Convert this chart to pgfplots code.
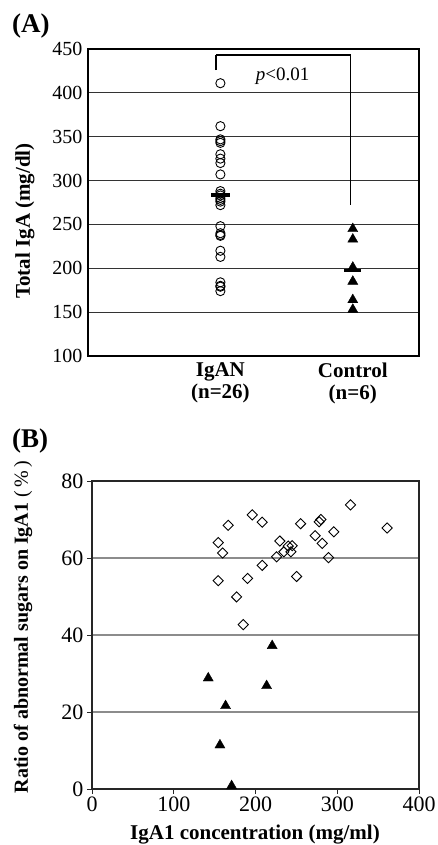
\documentclass[border=0pt]{standalone}
\usepackage{fontspec}
\setmainfont{Liberation Serif}
\usepackage{pgfplots}
\pgfplotsset{compat=1.18}

\begin{document}
\begin{tikzpicture}
\useasboundingbox (0pt,0pt) rectangle (437pt,-845pt);

% panel A
\node[anchor=base west, font=\fontsize{27}{30}\selectfont\bfseries, inner sep=0pt] at (12pt,-33pt) {(A)};
\node[rotate=90, font=\fontsize{21}{23}\selectfont\bfseries] at (25pt,-221pt) {Total IgA (mg/dl)};
\begin{axis}[
  at={(88pt,-356pt)}, anchor=south west,
  scale only axis, width=331pt, height=307pt,
  xmin=0, xmax=2.5, ymin=100, ymax=450,
  xtick={1,2}, xticklabels={{IgAN\\(n=26)},{Control\\(n=6)}},
  ytick={100,150,...,450},
  major tick length=0pt,
  ymajorgrids, grid style={black!80, line width=0.9pt},
  axis line style={black, line width=2.4pt},
  tick label style={font=\fontsize{20}{22}\selectfont},
  xticklabel style={font=\fontsize{21}{22}\selectfont\bfseries, align=center, yshift=-3pt},
  yticklabel style={xshift=-2pt},
  /pgf/number format/assume math mode=true,
  clip=false,
]
\addplot[only marks, mark=o, mark size=4.6pt, mark options={fill=white, line width=0.9pt}] coordinates {
(1,411) (1,362) (1,347) (1,345) (1,343) (1,330) (1,325) (1,320) (1,307)
(1,288) (1,285) (1,283) (1,280) (1,278) (1,276) (1,272) (1,248) (1,240)
(1,238) (1,237) (1,220) (1,213) (1,184) (1,180) (1,179) (1,174)};
\addplot[only marks, mark=triangle*, mark size=5.8pt, mark options={black}] coordinates {
(2,245) (2,233) (2,201) (2,185) (2,164) (2,153)};
% means
\addplot[black, line width=4pt] coordinates {(0.93,283) (1.07,283)};
\addplot[black, line width=3pt] coordinates {(1.935,198) (2.065,198)};
% bracket
\addplot[black, line width=2.3pt] coordinates {(0.967,426) (0.967,443)};
\addplot[black, line width=1.8pt] coordinates {(0.967,443) (1.984,443)};
\addplot[black, line width=1pt] coordinates {(1.984,443) (1.984,272)};
\node[font=\fontsize{19}{21}\selectfont, anchor=base] at (axis cs:1.47,414) {\textit{p}<0.01};
\end{axis}

% panel B
\node[anchor=base west, font=\fontsize{27}{30}\selectfont\bfseries, inner sep=0pt] at (12pt,-447pt) {(B)};
\node[rotate=90, font=\fontsize{20}{22}\selectfont\bfseries] at (23pt,-627pt) {Ratio of abnormal sugars on IgA1 {\mdseries(\,\%\,)}};
\node[anchor=base, font=\fontsize{21}{23}\selectfont\bfseries] at (255pt,-839pt) {IgA1 concentration (mg/ml)};
\begin{axis}[
  at={(92pt,-789pt)}, anchor=south west,
  scale only axis, width=327pt, height=308pt,
  xmin=0, xmax=400, ymin=0, ymax=80,
  xtick={0,100,...,400}, ytick={0,20,...,80},
  xtick pos=bottom, ytick pos=left, tick align=outside,
  major tick length=5pt, tick style={black!85, line width=1pt},
  ymajorgrids, grid style={black!45, line width=1.3pt},
  axis line style={black!85, line width=1.5pt},
  tick label style={font=\fontsize{22}{24}\selectfont},
  xticklabel style={yshift=1pt},
  /pgf/number format/assume math mode=true,
  clip=false,
]
\addplot[only marks, mark=square, mark size=3.6pt, mark options={rotate=45, fill=white, line width=0.9pt}] coordinates {
(154.4,64.0) (166.6,68.5) (159.8,61.3) (154.4,54.1) (176.9,49.9) (185,42.7)
(196,71.2) (208.2,69.3) (190.3,54.7) (208.2,58.1) (225.8,60.3) (229.8,64.4)
(234.7,61.6) (240,63.1) (244.9,63.2) (243.3,61.6) (250.2,55.2) (255.1,68.9)
(273,65.8) (277.9,69.4) (280,70.0) (281.6,63.8) (289.3,60.1) (295.8,66.8)
(316.2,73.8) (361,67.8)};
\addplot[only marks, mark=triangle*, mark size=5.8pt, mark options={black}] coordinates {
(142.2,28.8) (220.4,37.2) (213.6,26.8) (163.4,21.6) (156.5,11.4) (170.8,0.8)};
\end{axis}
\end{tikzpicture}
\end{document}
